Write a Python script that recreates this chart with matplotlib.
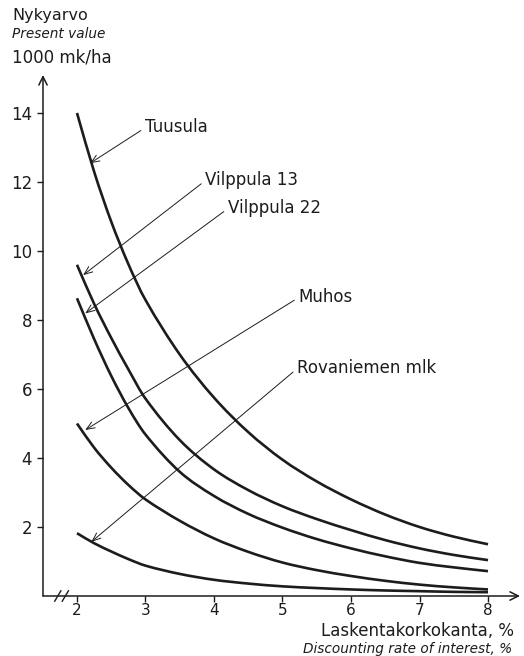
import matplotlib.pyplot as plt
from matplotlib.path import Path
from matplotlib.patches import PathPatch
import numpy as np

plt.rcParams['font.family'] = ['DejaVu Sans']

## DATI ##
korko = [2, 2.25, 2.5, 2.75, 3, 3.5, 4, 4.5, 5, 5.5, 6, 6.5, 7, 7.5, 8]  # laskentakorko %
tuusula = [14.0, 12.3, 10.85, 9.62, 8.58, 7.0, 5.75, 4.75, 3.95, 3.32, 2.8, 2.36, 2.0, 1.72, 1.5]
vilppula13 = [9.6, 8.47, 7.48, 6.57, 5.72, 4.52, 3.67, 3.07, 2.6, 2.23, 1.91, 1.62, 1.38, 1.19, 1.04]
vilppula22 = [8.63, 7.45, 6.38, 5.45, 4.68, 3.6, 2.9, 2.38, 1.98, 1.65, 1.38, 1.15, 0.96, 0.83, 0.72]
muhos = [5.0, 4.3, 3.72, 3.22, 2.8, 2.18, 1.67, 1.28, 0.97, 0.75, 0.58, 0.44, 0.33, 0.25, 0.19]
rovaniemi = [1.82, 1.53, 1.29, 1.07, 0.88, 0.64, 0.47, 0.36, 0.28, 0.23, 0.19, 0.16, 0.14, 0.12, 0.11]

sarjat = [tuusula, vilppula13, vilppula22, muhos, rovaniemi]
nimet = ['Tuusula', 'Vilppula 13', 'Vilppula 22', 'Muhos', 'Rovaniemen mlk']
# punto della freccia sulla curva, posizione del testo
kohde = [(2.19, 12.54), (2.09, 9.30), (2.12, 8.19), (2.12, 4.81), (2.21, 1.57)]
teksti = [(2.99, 13.59), (3.87, 12.06), (4.20, 11.25), (5.23, 8.67), (5.21, 6.61)]

xticks = [2, 3, 4, 5, 6, 7, 8]
yticks = [2, 4, 6, 8, 10, 12, 14]

ink = '#1c1c1c'


def curva(x, y):
    # curva di Bezier (Hermite) che passa per i punti letti
    x = np.asarray(x, float)
    y = np.asarray(y, float)
    n = len(x)
    m = np.zeros(n)
    m[0] = (y[1]-y[0])/(x[1]-x[0])
    m[-1] = (y[-1]-y[-2])/(x[-1]-x[-2])
    for i in range(1, n-1):
        m[i] = (y[i+1]-y[i-1])/(x[i+1]-x[i-1])
    verts = [(x[0], y[0])]
    codes = [Path.MOVETO]
    for i in range(n-1):
        h = x[i+1]-x[i]
        verts += [(x[i]+h/3, y[i]+m[i]*h/3), (x[i+1]-h/3, y[i+1]-m[i+1]*h/3), (x[i+1], y[i+1])]
        codes += [Path.CURVE4]*3
    return Path(verts, codes)


fig = plt.figure(figsize=(5.24, 6.56), dpi=100)
ax = fig.add_axes([43/524, 1-596/656, (520-43)/524, (596-75)/656])
ax.set_xlim(1.504, 8.467)
ax.set_ylim(0, 15.1)

for s in ax.spines.values():
    s.set_visible(False)

# assi con freccia
ax.annotate('', xy=(1, 0), xytext=(0, 0), xycoords='axes fraction',
            arrowprops=dict(arrowstyle='->,head_length=0.6,head_width=0.3', lw=1.1, color=ink,
                            shrinkA=0, shrinkB=0))
ax.annotate('', xy=(0, 1), xytext=(0, 0), xycoords='axes fraction',
            arrowprops=dict(arrowstyle='->,head_length=0.6,head_width=0.3', lw=1.1, color=ink,
                            shrinkA=0, shrinkB=0))

# interruzione asse x
for xb in [1.72, 1.83]:
    ax.plot([xb-0.045, xb+0.045], [-0.15, 0.15], color=ink, lw=1.0, clip_on=False)

for y in sarjat:
    ax.add_patch(PathPatch(curva(korko, y), facecolor='none', edgecolor=ink, lw=1.9,
                           capstyle='butt'))

for nimi, k, t in zip(nimet, kohde, teksti):
    ax.annotate(nimi, xy=k, xytext=t, va='center', ha='left', fontsize=12, color=ink,
                arrowprops=dict(arrowstyle='->,head_length=0.5,head_width=0.2', lw=0.7, color=ink,
                                shrinkA=1, shrinkB=0, relpos=(0, 0.45)))

ax.set_xticks(xticks)
ax.set_yticks(yticks)
ax.tick_params(direction='out', length=4, width=1.0, labelsize=12, colors=ink)
ax.tick_params(axis='x', pad=1, labelsize=11)
ax.tick_params(axis='y', pad=4)

fig.text(12/524, 1-20/656, 'Nykyarvo', fontsize=11.5, color=ink, va='baseline')
fig.text(12/524, 1-37.5/656, 'Present value', fontsize=9.8, style='italic', color=ink, va='baseline')
fig.text(12/524, 1-63/656, '1000 mk/ha', fontsize=12, color=ink, va='baseline')
fig.text(514/524, 1-635.5/656, 'Laskentakorkokanta, %', fontsize=12, color=ink, va='baseline', ha='right')
fig.text(512/524, 1-652.5/656, 'Discounting rate of interest, %', fontsize=9.8, style='italic',
         color=ink, va='baseline', ha='right')

fig.savefig('out.png', dpi=100)
